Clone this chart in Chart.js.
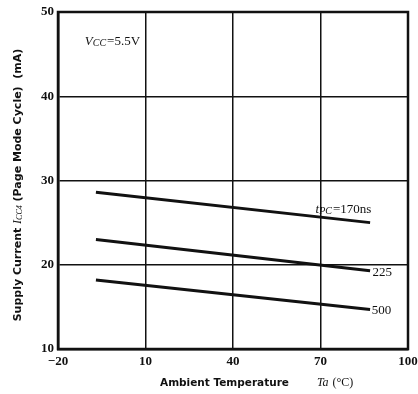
<!DOCTYPE html>
<html>
<head>
<meta charset="utf-8">
<script src="https://cdn.jsdelivr.net/npm/chart.js@4"></script>
<style>
html,body{margin:0;padding:0;background:#fff;}
#wrap{width:418px;height:394px;position:relative;}
</style>
</head>
<body>
<div id="wrap"><canvas id="c" width="418" height="394"></canvas></div>
<script>
// Data
const seriesNames = ["170ns", "225", "500"];
const tempX = [-7, 87];            // ambient temperature endpoints (°C)
const icc170 = [28.6, 25.0];       // mA
const icc225 = [23.0, 19.3];
const icc500 = [18.2, 14.7];
const xTicks = [-20, 10, 40, 70, 100];
const yTicks = [10, 20, 30, 40, 50];

function pts(ys){ return tempX.map((x,i)=>({x:x, y:ys[i]})); }

const serif = "'Liberation Serif', 'DejaVu Serif', serif";
const sans = "'DejaVu Sans', 'Liberation Sans', sans-serif";

const annot = {
  id: 'annot',
  afterDraw(chart){
    const ctx = chart.ctx;
    const xs = chart.scales.x, ys = chart.scales.y;
    ctx.save();
    ctx.fillStyle = '#111';
    ctx.textBaseline = 'middle';
    // Vcc label
    let px = xs.getPixelForValue(-10.8), py = ys.getPixelForValue(46.5);
    ctx.font = "italic 13px " + serif;
    ctx.fillText("V", px, py); px += ctx.measureText("V").width;
    ctx.font = "italic 10px " + serif;
    ctx.fillText("CC", px, py + 2); px += ctx.measureText("CC").width + 1;
    ctx.font = "13px " + serif;
    ctx.fillText("=5.5V", px, py);
    // tPC label
    px = xs.getPixelForValue(68.3); py = ys.getPixelForValue(26.6);
    ctx.font = "italic 13px " + serif;
    ctx.fillText("t", px, py); px += ctx.measureText("t").width;
    ctx.font = "italic 10px " + serif;
    ctx.fillText("PC", px, py + 2); px += ctx.measureText("PC").width + 1;
    ctx.font = "13px " + serif;
    ctx.fillText("=170ns", px, py);
    // 225, 500
    ctx.fillText("225", xs.getPixelForValue(87.8), ys.getPixelForValue(19.1));
    ctx.fillText("500", xs.getPixelForValue(87.6), ys.getPixelForValue(14.6));

    // X axis title
    py = 383;
    px = 160;
    ctx.font = "bold 10.5px " + sans;
    ctx.fillText("Ambient Temperature", px, py); px += ctx.measureText("Ambient Temperature").width + 28;
    ctx.font = "italic 12px " + serif;
    ctx.fillText("Ta", px, py); px += ctx.measureText("Ta").width + 4;
    ctx.font = "12px " + serif;
    ctx.fillText("(°C)", px, py);

    // Y axis title (rotated)
    ctx.translate(18, 185);
    ctx.rotate(-Math.PI/2);
    const parts = [
      ["bold 11px " + sans, "Supply Current ", 0],
      ["italic 12px " + serif, "I", 0],
      ["italic 8px " + serif, "CC4", 2],
      ["bold 11px " + sans, " (Page Mode Cycle)  (mA)", 0]
    ];
    let total = 0;
    parts.forEach(p=>{ ctx.font = p[0]; total += ctx.measureText(p[1]).width; });
    let cx = -total/2;
    parts.forEach(p=>{ ctx.font = p[0]; ctx.fillText(p[1], cx, p[2]); cx += ctx.measureText(p[1]).width; });
    ctx.restore();
  }
};

const lineStyle = {borderColor:'#111', borderWidth:3, pointRadius:0, showLine:true, fill:false};

new Chart(document.getElementById('c'), {
  type: 'scatter',
  data: {
    datasets: [
      Object.assign({label: seriesNames[0], data: pts(icc170)}, lineStyle),
      Object.assign({label: seriesNames[1], data: pts(icc225)}, lineStyle),
      Object.assign({label: seriesNames[2], data: pts(icc500)}, lineStyle)
    ]
  },
  options: {
    responsive: false,
    animation: false,
    devicePixelRatio: 1,
    layout: {padding: {top: 12, right: 10, left: 0, bottom: 0}},
    plugins: {legend: {display: false}, tooltip: {enabled: false}},
    scales: {
      x: {
        type: 'linear', min: -20, max: 100,
        afterBuildTicks: s => { s.ticks = xTicks.map(v => ({value: v})); },
        afterFit: s => { s.height = 45; s.paddingLeft = 0; s.paddingRight = 0; },
        grid: {color: '#111', lineWidth: 1.5, drawTicks: false},
        border: {color: '#111', width: 2.5},
        ticks: {
          padding: 5, color: '#111',
          font: {family: serif, size: 13, weight: 'bold'},
          callback: v => v < 0 ? '\u2212' + Math.abs(v) : String(v)
        }
      },
      y: {
        type: 'linear', min: 10, max: 50,
        afterBuildTicks: s => { s.ticks = yTicks.map(v => ({value: v})); },
        afterFit: s => { s.width = 58; s.paddingTop = 0; s.paddingBottom = 0; },
        grid: {color: '#111', lineWidth: 1.5, drawTicks: false},
        border: {color: '#111', width: 2.5},
        ticks: {
          padding: 4, color: '#111',
          font: {family: serif, size: 13, weight: 'bold'}
        }
      }
    }
  },
  plugins: [annot, {
    id: 'frame',
    afterDatasetsDraw(chart){
      const a = chart.chartArea, ctx = chart.ctx;
      ctx.save();
      ctx.strokeStyle = '#111'; ctx.lineWidth = 2.5;
      ctx.strokeRect(a.left, a.top, a.right - a.left, a.bottom - a.top);
      ctx.restore();
    }
  }]
});
</script>
</body>
</html>
